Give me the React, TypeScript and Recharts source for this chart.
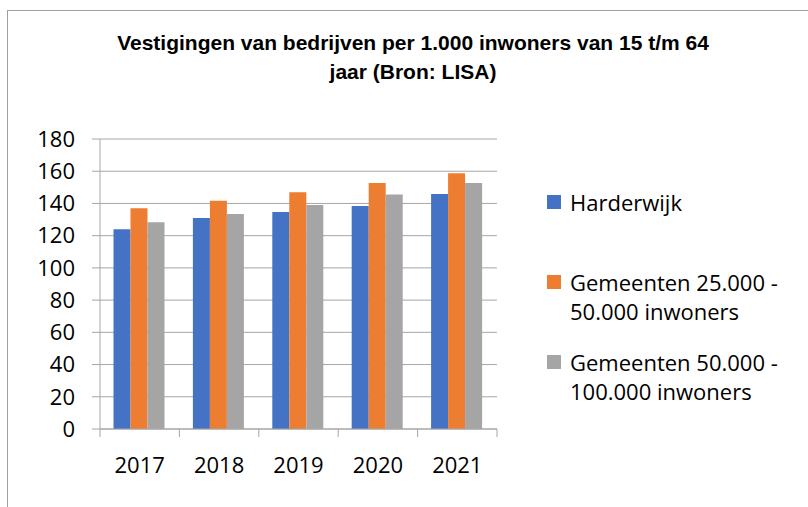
import React from "react";
import { BarChart, Bar, XAxis, YAxis, CartesianGrid } from "recharts";

const years = ["2017", "2018", "2019", "2020", "2021"];
const harderwijk = [124, 131, 134.7, 138.4, 145.9];
const gemeenten25 = [137, 141.7, 146.9, 152.7, 158.7];
const gemeenten50 = [128.3, 133.5, 139, 145.5, 152.7];
const yTicks = [0, 20, 40, 60, 80, 100, 120, 140, 160, 180];
// category boundaries for the x-axis tick marks (between the years)
const edgeTicks = [0, 1, 2, 3, 4, 5];

const series = [
  { key: "harderwijk", name: "Harderwijk", color: "#4472C4" },
  { key: "gemeenten25", name: "Gemeenten 25.000 - 50.000 inwoners", color: "#ED7D31" },
  { key: "gemeenten50", name: "Gemeenten 50.000 - 100.000 inwoners", color: "#A5A5A5" },
];

const data = years.map((year, i) => ({
  year,
  slot: i + 0.5,
  harderwijk: harderwijk[i],
  gemeenten25: gemeenten25[i],
  gemeenten50: gemeenten50[i],
}));

const TITLE = "Vestigingen van bedrijven per 1.000 inwoners van 15 t/m 64 jaar (Bron: LISA)";
const AXIS = "#a6a6a6";
const FONT = "'Open Sans', sans-serif";

export default function App() {
  return (
    <div style={{ position: "fixed", left: 0, top: 0, width: 808, height: 507, overflow: "hidden", background: "#fff" }}>
      <div
        style={{
          position: "absolute",
          left: 7,
          top: 10,
          width: 820,
          height: 520,
          border: "1px solid #a0a0a0",
        }}
      >
        <div
          style={{
            position: "absolute",
            left: 105,
            top: 18,
            width: 600,
            textAlign: "center",
            fontFamily: "'Liberation Sans', Arial, sans-serif",
            fontWeight: "bold",
            fontSize: 21,
            lineHeight: "28.6px",
            color: "#000",
          }}
        >
          {TITLE}
        </div>

        <div style={{ position: "absolute", left: 0, top: 0 }}>
          <BarChart
            width={790}
            height={479}
            data={data}
            margin={{ top: 128, right: 301, bottom: 0, left: 0 }}
            barCategoryGap="17%"
            barGap={0}
          >
            <CartesianGrid xAxisId="b_cat" vertical={false} stroke={AXIS} strokeWidth={1} />
            <XAxis
              xAxisId="b_cat"
              dataKey="year"
              height={60}
              axisLine={false}
              tickLine={false}
              tickSize={0}
              tickMargin={27}
              tick={{ fill: "#000", fontSize: 22, fontFamily: FONT }}
            />
            <XAxis
              xAxisId="a_edge"
              dataKey="slot"
              type="number"
              domain={[0, 5]}
              ticks={edgeTicks}
              interval={0}
              allowDataOverflow
              height={1}
              tickFormatter={() => ""}
              tickSize={8}
              axisLine={{ stroke: AXIS }}
              tickLine={{ stroke: AXIS }}
            />
            <YAxis
              width={92}
              domain={[0, 180]}
              ticks={yTicks}
              interval={0}
              tickSize={8}
              tickMargin={17}
              axisLine={{ stroke: AXIS }}
              tickLine={{ stroke: AXIS }}
              tick={{ fill: "#000", fontSize: 22, fontFamily: FONT }}
            />
            {series.map((s) => (
              <Bar key={s.key} xAxisId="b_cat" dataKey={s.key} name={s.name} fill={s.color} isAnimationActive={false} />
            ))}
          </BarChart>
        </div>

        <div style={{ position: "absolute", left: 539, top: 176.5, width: 240, fontFamily: FONT, fontSize: 22, lineHeight: "29px", color: "#000" }}>
          {series.map((s) => (
            <div key={s.key} style={{ display: "flex", alignItems: "flex-start", height: 80 }}>
              <div style={{ width: 14, height: 14, background: s.color, marginTop: 7.5, marginRight: 9, flexShrink: 0 }} />
              <div style={{ width: 225 }}>{s.name}</div>
            </div>
          ))}
        </div>
      </div>
    </div>
  );
}
